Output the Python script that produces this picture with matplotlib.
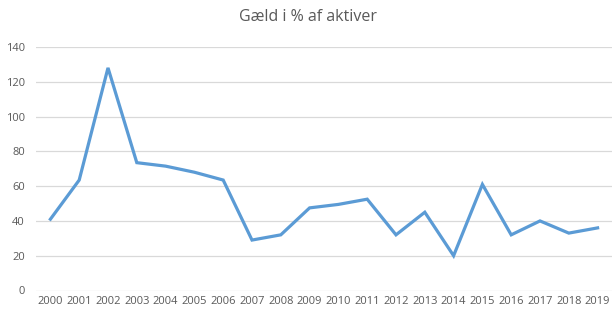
import matplotlib.pyplot as plt

# Data
years = [str(y) for y in range(2000, 2020)]
gaeld = [41, 63.5, 128, 73.5, 71.5, 68, 63.5, 29, 32, 47.5,
         49.5, 52.5, 32, 45, 20, 61, 32, 40, 33, 36]
y_ticks = [0, 20, 40, 60, 80, 100, 120, 140]

plt.rcParams.update({
    'font.family': 'Open Sans',
    'font.size': 8,
    'text.color': '#595959',
    'xtick.color': '#595959',
    'ytick.color': '#595959',
})

fig = plt.figure(figsize=(6.16, 3.2), dpi=100)
ax = fig.add_axes([36 / 616, 29.5 / 320, 576 / 616, 243.5 / 320])

x = range(len(years))
ax.plot(x, gaeld, color='#5B9BD5', linewidth=2.3, solid_joinstyle='miter', zorder=3)

ax.set_xlim(-0.5, len(years) - 0.5)
ax.set_ylim(0, 140)
ax.set_xticks(list(x))
ax.set_xticklabels(years)
ax.set_yticks(y_ticks)

ax.grid(axis='y', color='#D9D9D9', linewidth=0.9)
ax.set_axisbelow(True)
for s in ax.spines.values():
    s.set_visible(False)
ax.tick_params(length=0)
ax.tick_params(axis='x', pad=4)
ax.tick_params(axis='y', pad=8)

fig.text(0.5, 1 - 17 / 320, "Gæld i % af aktiver", ha='center', va='center',
         fontsize=11.5, color='#595959')

plt.savefig("out.png", dpi=100)
